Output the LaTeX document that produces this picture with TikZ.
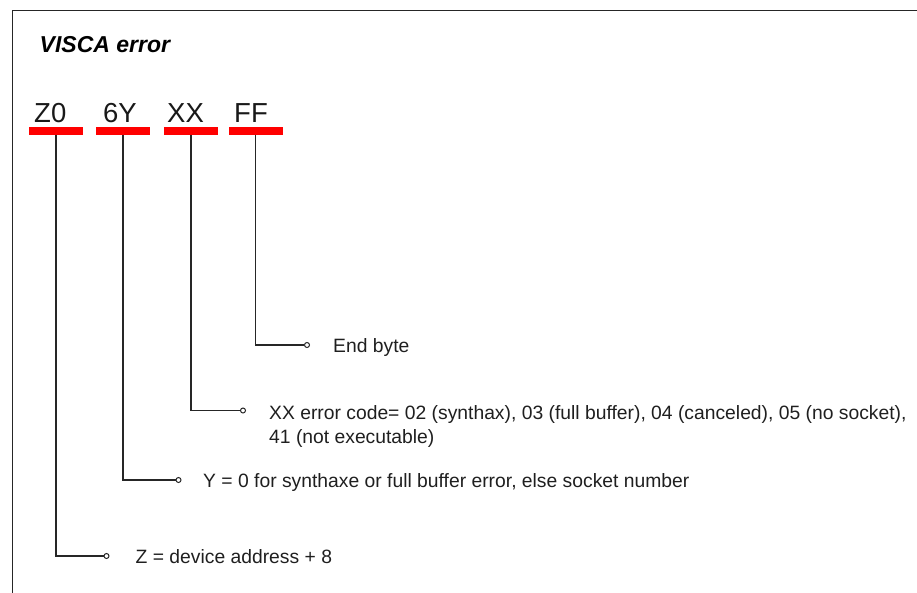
\documentclass[tikz,border=0pt]{standalone}
\usepackage{fontspec}
\setmainfont{Liberation Sans}
\begin{document}
\begin{tikzpicture}[x=1pt,y=-1pt,
  field/.style={font=\fontsize{27.5}{30}\selectfont, text=black!90, inner sep=0pt, anchor=base west},
  bar/.style={fill=red, draw=none, inner sep=0pt, minimum width=54pt, minimum height=7.5pt},
  tip/.style={circle, draw=black!85, fill=white, line width=1pt, inner sep=0pt, minimum size=5pt},
  lead/.style={draw=black!85, line width=1.3pt},
  desc/.style={font=\fontsize{19.3}{24}\selectfont, text=black!88, inner sep=0pt, anchor=base west, align=left}]
  \useasboundingbox (0,0) rectangle (917,592);
  \clip (0,0) rectangle (917,592);
  % outer frame, running off the page to the right and bottom
  \draw[line width=1.5pt, black!85] (12.5,620) -- (12.5,10.5) -- (950,10.5);

  % title
  \node[font=\fontsize{23}{26}\selectfont\bfseries\itshape, inner sep=0pt, anchor=base west] (title) at (39.5,52) {VISCA error};

  % byte fields
  \node[field] (tZ) at (34,122) {Z0};
  \node[field] (tY) at (103,122) {6Y};
  \node[field] (tX) at (167,122) {XX};
  \node[field] (tF) at (234,122) {FF};

  % red underlines
  \node[bar] (bZ) at (56,130.8) {};
  \node[bar] (bY) at (123,130.8) {};
  \node[bar] (bX) at (191,130.8) {};
  \node[bar] (bF) at (255.5,130.8) {};

  % lead ends
  \node[tip] (eF) at (307,345) {};
  \node[tip] (eX) at (243,410.5) {};
  \node[tip] (eY) at (178.5,480) {};
  \node[tip] (eZ) at (106.5,556) {};

  % leaders
  \draw[lead] (bF.south) |- (eF.west);
  \draw[lead] (bX.south) |- (eX.west);
  \draw[lead] (bY.south) |- (eY.west);
  \draw[lead] (bZ.south) |- (eZ.west);

  % descriptions (a two-line node sits on the baseline of its last line)
  \node[desc] (dF) at (333,352) {End byte};
  \node[desc] (dX) at (269,443) {XX error code= 02 (synthax), 03 (full buffer), 04 (canceled), 05 (no socket),\\41 (not executable)};
  \node[desc] (dY) at (203,487) {Y = 0 for synthaxe or full buffer error, else socket number};
  \node[desc] (dZ) at (135.5,563) {Z = device address + 8};
\end{tikzpicture}
\end{document}
